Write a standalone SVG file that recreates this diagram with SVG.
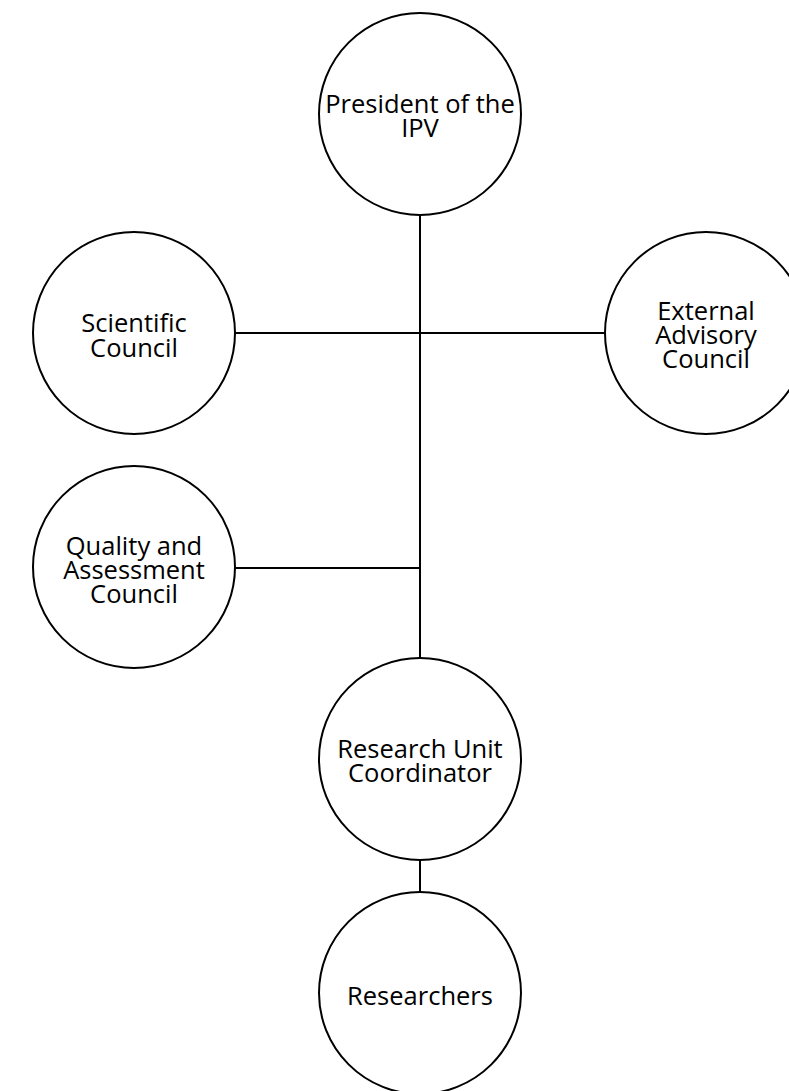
<svg xmlns="http://www.w3.org/2000/svg" width="789" height="1091" viewBox="0 0 789 1091">
<style>
.node{fill:#ffffff;stroke:#000000;stroke-width:2}
.lbl{font-family:"Open Sans","Noto Sans",sans-serif;font-size:25.5px;fill:#000000;text-anchor:middle}
.edge{stroke:#000000;stroke-width:2;fill:none}
</style>
<rect width="789" height="1091" fill="#ffffff"/>
<g id="connectors">
<line class="edge" x1="420" y1="215" x2="420" y2="658"/>
<line class="edge" x1="235" y1="333" x2="605" y2="333"/>
<line class="edge" x1="235" y1="568" x2="420" y2="568"/>
<line class="edge" x1="420" y1="860" x2="420" y2="892"/>
</g>
<g id="president">
<circle class="node" cx="420" cy="114" r="101"/>
<text class="lbl" x="420" y="113">President of the</text>
<text class="lbl" x="420" y="137">IPV</text>
</g>
<g id="scientific">
<circle class="node" cx="134" cy="333" r="101"/>
<text class="lbl" x="134" y="332">Scientific</text>
<text class="lbl" x="134" y="357">Council</text>
</g>
<g id="external">
<circle class="node" cx="706" cy="333" r="101"/>
<text class="lbl" x="706" y="320">External</text>
<text class="lbl" x="706" y="344">Advisory</text>
<text class="lbl" x="706" y="368">Council</text>
</g>
<g id="quality">
<circle class="node" cx="134" cy="567" r="101"/>
<text class="lbl" x="134" y="555">Quality and</text>
<text class="lbl" x="134" y="579">Assessment</text>
<text class="lbl" x="134" y="603">Council</text>
</g>
<g id="coordinator">
<circle class="node" cx="420" cy="759" r="101"/>
<text class="lbl" x="420" y="758">Research Unit</text>
<text class="lbl" x="420" y="782">Coordinator</text>
</g>
<g id="researchers">
<circle class="node" cx="420" cy="993" r="101"/>
<text class="lbl" x="420" y="1005">Researchers</text>
</g>
</svg>
